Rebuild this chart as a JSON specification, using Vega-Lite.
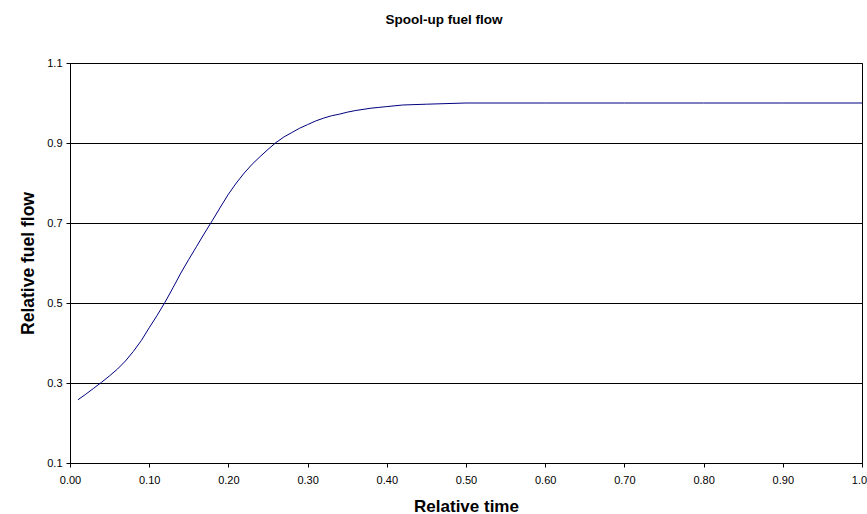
{
  "$schema": "https://vega.github.io/schema/vega-lite/v6.json",
  "width": 792,
  "height": 400,
  "autosize": {"type": "none"},
  "padding": {"left": 70, "top": 63, "right": 5, "bottom": 51},
  "background": "white",
  "title": {
    "text": "Spool-up fuel flow",
    "font": "Liberation Sans",
    "fontSize": 13.5,
    "fontWeight": "bold",
    "color": "#000",
    "anchor": "middle",
    "offset": 31,
    "dx": -22
  },
  "config": {
    "view": {"stroke": "#000", "strokeWidth": 1},
    "axis": {
      "labelFont": "Liberation Sans",
      "labelFontSize": 11,
      "labelColor": "#000",
      "titleFont": "Liberation Sans",
      "titleFontWeight": "bold",
      "titleColor": "#000",
      "domainColor": "#000",
      "tickColor": "#000",
      "tickSize": 4,
      "gridColor": "#000",
      "gridOpacity": 1
    }
  },
  "data": {
    "values": [
      {"t": 0.01, "f": 0.258},
      {"t": 0.02, "f": 0.272},
      {"t": 0.03, "f": 0.287},
      {"t": 0.04, "f": 0.302},
      {"t": 0.05, "f": 0.318},
      {"t": 0.06, "f": 0.335},
      {"t": 0.07, "f": 0.355},
      {"t": 0.08, "f": 0.379},
      {"t": 0.09, "f": 0.406},
      {"t": 0.10, "f": 0.438},
      {"t": 0.11, "f": 0.469},
      {"t": 0.12, "f": 0.502},
      {"t": 0.13, "f": 0.538},
      {"t": 0.14, "f": 0.575},
      {"t": 0.15, "f": 0.609},
      {"t": 0.16, "f": 0.642},
      {"t": 0.17, "f": 0.675},
      {"t": 0.18, "f": 0.707},
      {"t": 0.19, "f": 0.740},
      {"t": 0.20, "f": 0.772},
      {"t": 0.21, "f": 0.800},
      {"t": 0.22, "f": 0.825},
      {"t": 0.23, "f": 0.847},
      {"t": 0.24, "f": 0.866},
      {"t": 0.25, "f": 0.884},
      {"t": 0.26, "f": 0.901},
      {"t": 0.27, "f": 0.915},
      {"t": 0.28, "f": 0.926},
      {"t": 0.29, "f": 0.937},
      {"t": 0.30, "f": 0.946},
      {"t": 0.31, "f": 0.955},
      {"t": 0.32, "f": 0.962},
      {"t": 0.33, "f": 0.968},
      {"t": 0.34, "f": 0.972},
      {"t": 0.35, "f": 0.977},
      {"t": 0.36, "f": 0.981},
      {"t": 0.37, "f": 0.984},
      {"t": 0.38, "f": 0.987},
      {"t": 0.39, "f": 0.989},
      {"t": 0.40, "f": 0.991},
      {"t": 0.42, "f": 0.995},
      {"t": 0.45, "f": 0.997},
      {"t": 0.50, "f": 1.0},
      {"t": 0.60, "f": 1.0},
      {"t": 0.70, "f": 1.0},
      {"t": 0.80, "f": 1.0},
      {"t": 0.90, "f": 1.0},
      {"t": 1.00, "f": 1.0}
    ]
  },
  "mark": {"type": "line", "color": "#000080", "strokeWidth": 1, "clip": true},
  "encoding": {
    "x": {
      "field": "t",
      "type": "quantitative",
      "scale": {"domain": [0, 1], "nice": false, "zero": false},
      "axis": {
        "title": "Relative time",
        "titleFontSize": 17,
        "titlePadding": 13,
        "values": [0, 0.1, 0.2, 0.3, 0.4, 0.5, 0.6, 0.7, 0.8, 0.9, 1.0],
        "format": ".2f",
        "labelPadding": 7,
        "grid": false,
        "labelOverlap": false,
        "labelFlush": false
      }
    },
    "y": {
      "field": "f",
      "type": "quantitative",
      "scale": {"domain": [0.1, 1.1], "nice": false, "zero": false},
      "axis": {
        "title": "Relative fuel flow",
        "titleFontSize": 17.5,
        "titlePadding": 9,
        "values": [0.1, 0.3, 0.5, 0.7, 0.9, 1.1],
        "format": ".1f",
        "labelPadding": 4,
        "grid": true,
        "labelOverlap": false,
        "labelFlush": false
      }
    }
  }
}
